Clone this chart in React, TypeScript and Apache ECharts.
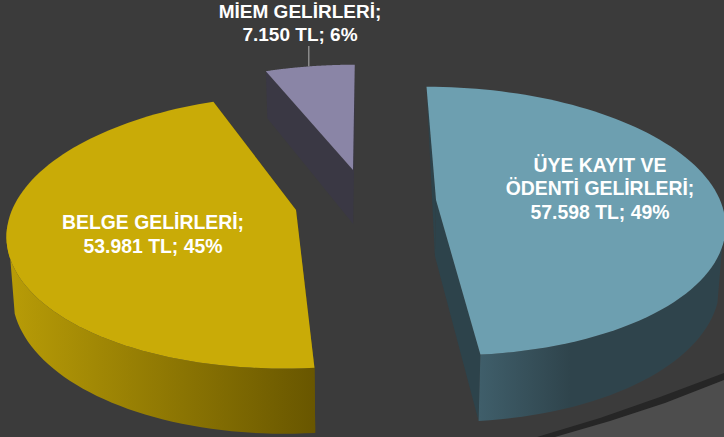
import React, { useEffect, useRef } from "react";
import * as echarts from "echarts";

const names = ["ÜYE KAYIT VE\nÖDENTİ GELİRLERİ;", "BELGE GELİRLERİ;", "MİEM GELİRLERİ;"];
const values = [57598, 53981, 7150];

const W = 724;
const H = 437;
const BG = "#3b3b3b";
const R = 284;
const Q = 131;
const K = 0.157;
const VX = 366;
const SHRINK = 0.00028;
const N = 90;
const styles = [
  { apex: [436, 200], q: 1, r: 1, depth: 56, top: "#6d9fb0", wall: "#2d434b", label: [600, 188], size: 19.4,
    side: [[480, "#3f5e6a"], [570, "#2f444c"], [724, "#2f444c"]], hideStart: true, leader: false },
  { apex: [296, 210], q: 1.02, r: 1, depth: 55, top: "#c9ab07", wall: "#6a5800", label: [153, 234], size: 19.4,
    side: [[5, "#b99d07"], [316, "#685600"]], hideStart: false, leader: false },
  { apex: [353, 170], q: 0.93, r: 0.97, depth: 54, top: "#8a85a6", wall: "#3a3844", label: [300, 23], size: 19,
    side: [[265, "#3a3844"], [355, "#3a3844"]], hideStart: false, leader: true },
];

const total = values.reduce((a, b) => a + b, 0);
const fmt = (v: number) => String(v).replace(/\B(?=(\d{3})+$)/g, ".");

function renderItem(params: any) {
  const i = params.dataIndex;
  const st = styles[i];
  const before = values.slice(0, i).reduce((a, b) => a + b, 0);
  const a0 = (before / total) * Math.PI * 2;
  const a1 = ((before + values[i]) / total) * Math.PI * 2;
  const pt = (u: number, v: number, dz: number) => {
    const s = 1 / (1 + K * v);
    return [
      VX + (st.apex[0] - VX + R * st.r * u) * s * (1 - SHRINK * dz),
      st.apex[1] - Q * st.q * v * s + dz * s,
    ];
  };
  const topRim: number[][] = [];
  const lowRim: number[][] = [];
  const frontTop: number[][] = [];
  const frontLow: number[][] = [];
  for (let k = 0; k <= N; k++) {
    const a = a0 + ((a1 - a0) * k) / N;
    const u = Math.sin(a);
    const v = Math.cos(a);
    topRim.push(pt(u, v, 0));
    lowRim.push(pt(u, v, st.depth));
    if (v < -0.1) frontTop.push(pt(u, v, 0));
    if (v < -0.3) frontLow.push(pt(u, v, st.depth));
  }
  const cTop = pt(0, 0, 0);
  const cLow = pt(0, 0, st.depth);
  const x0 = st.side[0][0] as number;
  const x1 = st.side[st.side.length - 1][0] as number;
  const grad = new echarts.graphic.LinearGradient(
    x0, 0, x1, 0,
    st.side.map((c) => ({ offset: ((c[0] as number) - x0) / (x1 - x0), color: c[1] as string })),
    true
  );
  const poly = (points: number[][], fill: any) => ({
    type: "polygon",
    shape: { points },
    style: { fill, stroke: null },
  });
  const pct = Math.round((values[i] / total) * 100);
  const children: any[] = [
    st.hideStart
      ? poly([topRim[0], cLow, cTop], st.wall)
      : poly([cTop, topRim[0], lowRim[0], cLow], st.wall),
    poly([cTop, topRim[N], lowRim[N], cLow], st.wall),
  ];
  if (frontLow.length > 1) {
    children.push(poly([...frontTop, ...frontLow.slice().reverse()], grad));
  }
  children.push(poly([cTop, ...topRim], st.top));
  children.push({
    type: "text",
    x: st.label[0],
    y: st.label[1],
    z2: 10,
    style: {
      text: `${names[i]}\n${fmt(values[i])} TL; ${pct}%`,
      fill: "#ffffff",
      font: `bold ${st.size}px "Liberation Sans", Arial, sans-serif`,
      align: "center",
      verticalAlign: "middle",
      lineHeight: 23.5,
    },
  });
  if (st.leader) {
    const mid = topRim[Math.round(N * 0.49)];
    children.push({
      type: "line",
      shape: { x1: mid[0], y1: 46, x2: mid[0], y2: mid[1] },
      style: { stroke: "#b5b5b5", lineWidth: 1 },
    });
  }
  return { type: "group", children };
}

export default function App() {
  const ref = useRef<HTMLDivElement>(null);
  useEffect(() => {
    document.body.style.margin = "0";
    document.body.style.background = BG;
    const chart = echarts.init(ref.current!, null, { renderer: "svg" });
    chart.setOption({
      animation: false,
      backgroundColor: BG,
      graphic: [
        {
          type: "polygon",
          z: 0,
          shape: { points: [[537, 437], [600, 418], [660, 397], [724, 373], [724, 437]] },
          style: { fill: "#262626" },
        },
        {
          type: "polygon",
          z: 0,
          shape: { points: [[555, 437], [610, 421], [665, 403], [724, 380], [724, 437]] },
          style: { fill: "#4d4d4d" },
        },
      ],
      series: [
        {
          type: "custom",
          coordinateSystem: "none",
          z: 5,
          silent: true,
          clip: false,
          data: values.map((v, i) => ({ name: names[i], value: v })),
          renderItem,
        },
      ],
    });
    return () => chart.dispose();
  }, []);
  return <div ref={ref} style={{ width: W, height: H }} />;
}
